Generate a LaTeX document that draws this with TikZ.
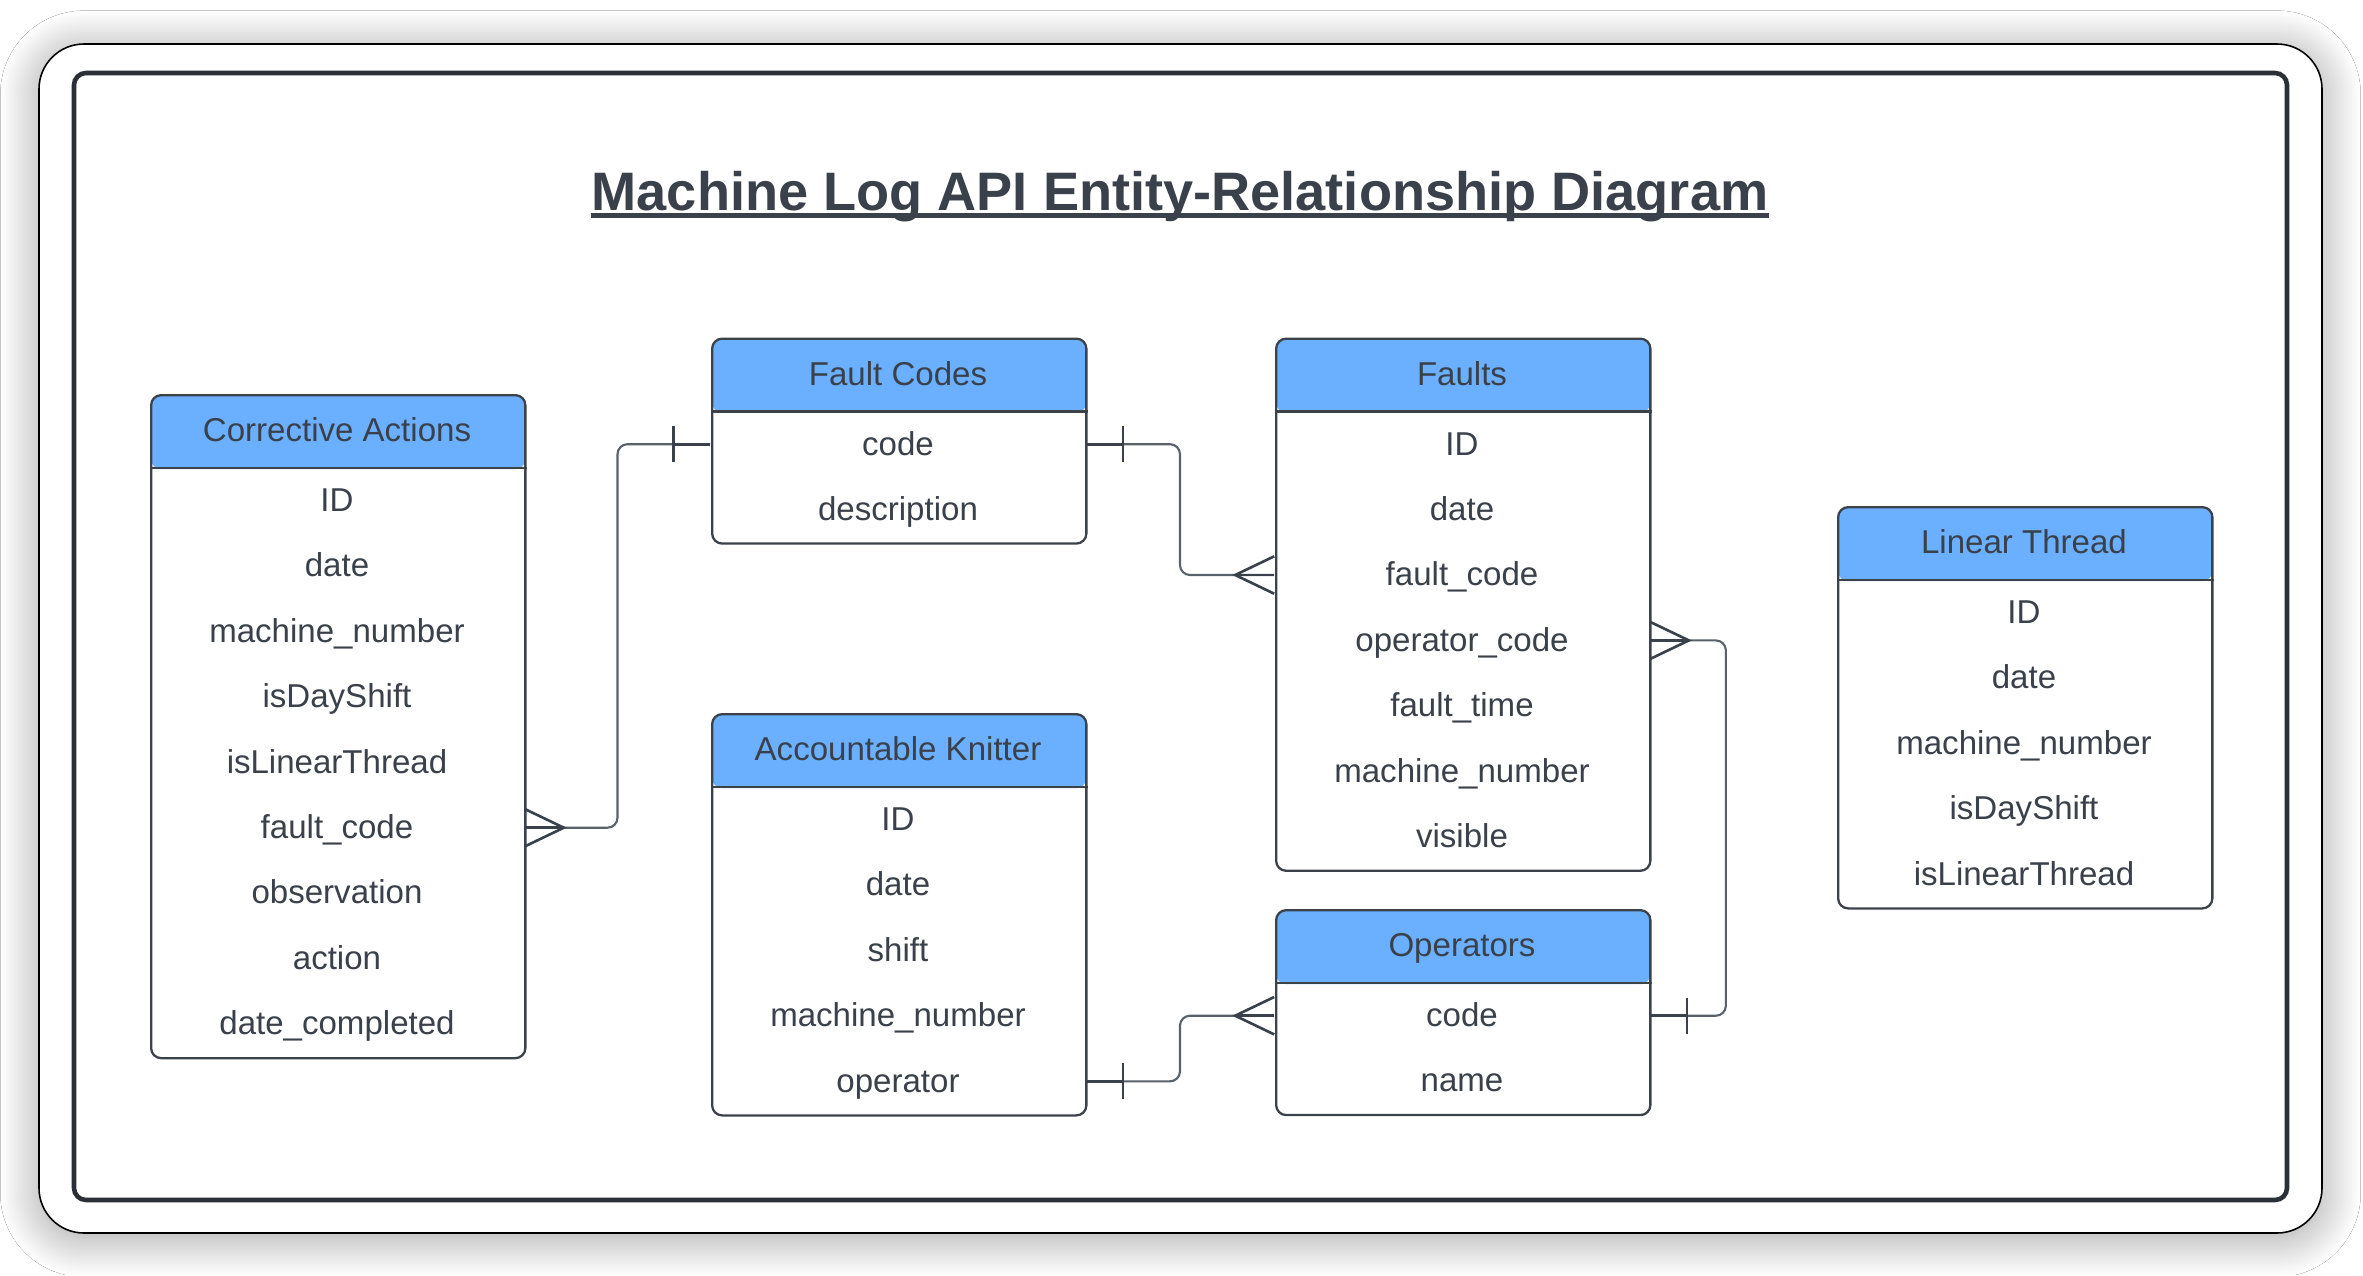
\documentclass[tikz,border=0pt]{standalone}
\usepackage{fontspec}
\setmainfont{Liberation Sans}
\usetikzlibrary{calc,shadows.blur}
\definecolor{ink}{HTML}{3A414A}
\definecolor{hdr}{HTML}{6BAFFF}
\definecolor{bordc}{HTML}{3C424A}
\definecolor{connc}{HTML}{59616B}
\definecolor{framec}{HTML}{2B2F36}
\tikzset{
  entbox/.style={draw=bordc, line width=0.65pt, rounded corners=0.1cm, fill=white, inner sep=0pt, anchor=north west, minimum width=3.74cm},
  celltext/.style={text=ink, font=\fontsize{9.4pt}{11pt}\selectfont, inner sep=0pt, minimum width=3.74cm, text height=0.716em, text depth=0.1em},
  hdrtext/.style={celltext, minimum height=0.74cm},
  rowcell/.style={celltext, minimum height=0.654cm},
  conn/.style={draw=connc, line width=0.6pt, rounded corners=0.1cm},
  endmark/.style={draw=ink, line width=0.75pt},
}
\newcommand{\erent}[6]{%
  \node[entbox, minimum height={0.74cm+#5*0.654cm},
        path picture={\fill[hdr] (path picture bounding box.north west) rectangle ([yshift=-0.74cm]path picture bounding box.north east);}]
        (#1) at (#2,#3) {};
  \draw[bordc, line width=0.75pt] ([yshift=-0.74cm]#1.north west) -- ([yshift=-0.74cm]#1.north east);
  \node[hdrtext] (#1-h) at (#2+187,#3+37) {#4};
  \foreach \r [count=\i] in {#6} {\node[rowcell] (#1-\i) at ({#2+187},{#3+74+65.4*\i-32.7}) {\r};}
}
\newcommand{\crowf}[2]{%
  \draw[endmark] ($(#1)+(0,-18.7)$) -- ($(#1)+(#2,0)$) -- ($(#1)+(0,18.7)$);
  \draw[endmark] (#1) -- ($(#1)+(#2,0)$);}
\newcommand{\onebar}[2]{%
  \draw[endmark] (#1) -- ($(#1)+(#2,0)$);
  \draw[endmark] ($(#1)+(#2,-18)$) -- ($(#1)+(#2,18)$);}
\begin{document}
\begin{tikzpicture}[x=0.01cm,y=-0.01cm]
\useasboundingbox (0,0) rectangle (2363,1275);
\fill[white] (0,0) rectangle (2363,1275);
\path[blur shadow={shadow xshift=0pt, shadow yshift=-1.5pt, shadow blur radius=11pt, shadow blur steps=24, shadow opacity=38},
      fill=white, draw=black, line width=0.45pt, rounded corners=0.45cm] (39,44) rectangle (2322,1233);
\draw[framec, line width=1.3pt, rounded corners=0.12cm] (74,73) rectangle (2287,1200);
\node[anchor=base, inner sep=0pt, text=ink, font=\bfseries\fontsize{15.4pt}{18pt}\selectfont] (title) at (1180,210) {Machine Log API Entity-Relationship Diagram};
\draw[ink, line width=0.05cm] ([yshift=-0.055cm]title.base west) -- ([yshift=-0.055cm]title.base east);

\erent{ca}{150}{394}{Corrective Actions}{9}{ID,date,machine\_number,isDayShift,isLinearThread,fault\_code,observation,action,date\_completed}
\erent{fc}{711}{337.5}{Fault Codes}{2}{code,description}
\erent{fa}{1275}{337.5}{Faults}{7}{ID,date,fault\_code,operator\_code,fault\_time,machine\_number,visible}
\erent{ak}{711}{713}{Accountable Knitter}{5}{ID,date,shift,machine\_number,operator}
\erent{op}{1275}{909}{Operators}{2}{code,name}
\erent{lt}{1837}{506}{Linear Thread}{5}{ID,date,machine\_number,isDayShift,isLinearThread}

\coordinate (m1) at ($(ca-6.east)!0.5!(fc-1.west)$);
\draw[conn] (ca-6.east) -| (m1 |- fc-1.west) -- (fc-1.west);
\coordinate (m2) at ($(fc-1.east)!0.5!(fa-3.west)$);
\draw[conn] (fc-1.east) -| (m2 |- fa-3.west) -- (fa-3.west);
\coordinate (m3) at ([xshift=0.76cm]fa-4.east);
\draw[conn] (fa-4.east) -- (m3) |- (op-1.east);
\coordinate (m4) at ($(ak-5.east)!0.5!(op-1.west)$);
\draw[conn] (ak-5.east) -| (m4 |- op-1.west) -- (op-1.west);

\crowf{ca-6.east}{39}
\onebar{fc-1.west}{-37}
\onebar{fc-1.east}{37}
\crowf{fa-3.west}{-39}
\crowf{fa-4.east}{39}
\onebar{op-1.east}{37}
\onebar{ak-5.east}{37}
\crowf{op-1.west}{-39}
\end{tikzpicture}
\end{document}
